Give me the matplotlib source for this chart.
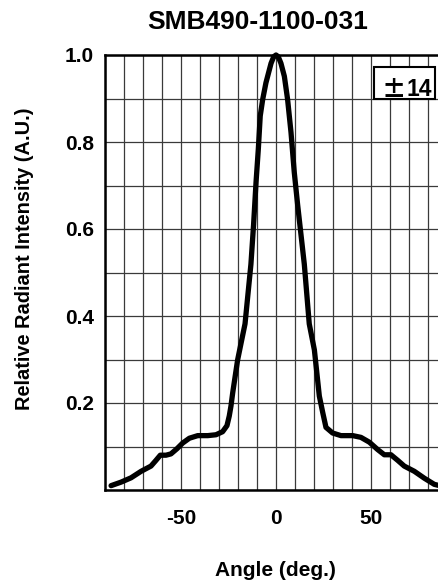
#!/usr/bin/env python3

import matplotlib
matplotlib.use("Agg")
import matplotlib.pyplot as plt
from matplotlib.patches import Rectangle

plt.rcParams["font.family"] = ["Liberation Sans", "DejaVu Sans"]
plt.rcParams["font.weight"] = "bold"

# radiation pattern
angle = [-86.8, -81.6, -76.3, -71.0, -65.8, -63.2, -60.9, -57.9, -55.3,
         -52.1, -49.1, -45.6, -41.2, -35.9, -31.6, -28.1, -25.8, -24.6,
         -23.7, -22.8, -20.2, -16.3, -13.2, -11.8, -10.5, -9.3, -8.3,
         -7.0, -5.3, -2.6, -1.2, 0.0, 1.2, 2.6, 4.4, 6.1, 7.9, 9.6, 11.4,
         14.9, 17.5, 20.2, 22.8, 24.6, 26.3, 29.8, 34.2, 40.4, 44.7, 49.1,
         53.5, 57.0, 60.5, 64.1, 67.5, 72.8, 78.1, 83.3, 88.0]
intensity = [0.010, 0.018, 0.028, 0.043, 0.055, 0.068, 0.080, 0.080, 0.083,
             0.095, 0.108, 0.119, 0.125, 0.125, 0.127, 0.134, 0.148, 0.170,
             0.193, 0.223, 0.299, 0.382, 0.519, 0.610, 0.708, 0.784, 0.860,
             0.898, 0.936, 0.981, 0.996, 1.0, 0.996, 0.981, 0.951, 0.898,
             0.822, 0.731, 0.655, 0.519, 0.382, 0.322, 0.216, 0.178, 0.144,
             0.131, 0.125, 0.125, 0.121, 0.110, 0.093, 0.081, 0.081, 0.068,
             0.055, 0.043, 0.027, 0.013, 0.008]

x_ticks = [-50, 0, 50]
y_ticks = [0.2, 0.4, 0.6, 0.8, 1.0]
title = "SMB490-1100-031"

W, H = 439, 584
fig = plt.figure(figsize=(W / 100, H / 100), dpi=100)
ax = fig.add_axes([105 / W, 1 - 490 / H, 342 / W, 435 / H])

ax.set_xlim(-90, 90)
ax.set_ylim(0.011, 1.0)
ax.set_xticks(range(-90, 91, 10), minor=True)
ax.set_yticks([i / 10 for i in range(11)], minor=True)
ax.set_xticks(x_ticks)
ax.set_yticks(y_ticks)
ax.set_xticklabels([str(t) for t in x_ticks])
ax.set_yticklabels([f"{t:.1f}" for t in y_ticks])
ax.tick_params(which="both", length=0)
ax.tick_params(axis="x", pad=14, labelsize=15)
ax.tick_params(axis="y", pad=8, labelsize=15)
ax.grid(which="both", color="#3a3a3a", linewidth=0.9)
ax.set_axisbelow(True)
for s in ax.spines.values():
    s.set_linewidth(1.8)
    s.set_color("black")

ax.plot(angle, intensity, color="black", linewidth=3.8,
        solid_joinstyle="round", solid_capstyle="round", clip_on=False, zorder=3)

# viewing angle box in the top right corner
fig.add_artist(Rectangle((374 / W, 1 - 99 / H), 61 / W, 32 / H,
                         transform=fig.transFigure, facecolor="white",
                         edgecolor="black", linewidth=1.5, zorder=5))
fig.text(394 / W, 1 - 97.2 / H, "±", fontsize=17.5,
         family=["Noto Sans CJK JP", "DejaVu Sans"], fontweight="bold",
         ha="center", va="baseline", zorder=6)
fig.text(419.5 / W, 1 - 95.5 / H, "14", fontsize=16.5, fontweight="bold",
         ha="center", va="baseline", zorder=6)

fig.text(258 / W, 1 - 22 / H, title, fontsize=19, fontweight="bold",
         ha="center", va="center")
fig.text(25 / W, 1 - 259 / H, "Relative Radiant Intensity (A.U.)",
         fontsize=14.4, fontweight="bold", rotation=90,
         ha="center", va="center")
fig.text(275 / W, 1 - 570 / H, "Angle (deg.)", fontsize=15,
         fontweight="bold", ha="center", va="center")

fig.savefig("out.png", dpi=100)
